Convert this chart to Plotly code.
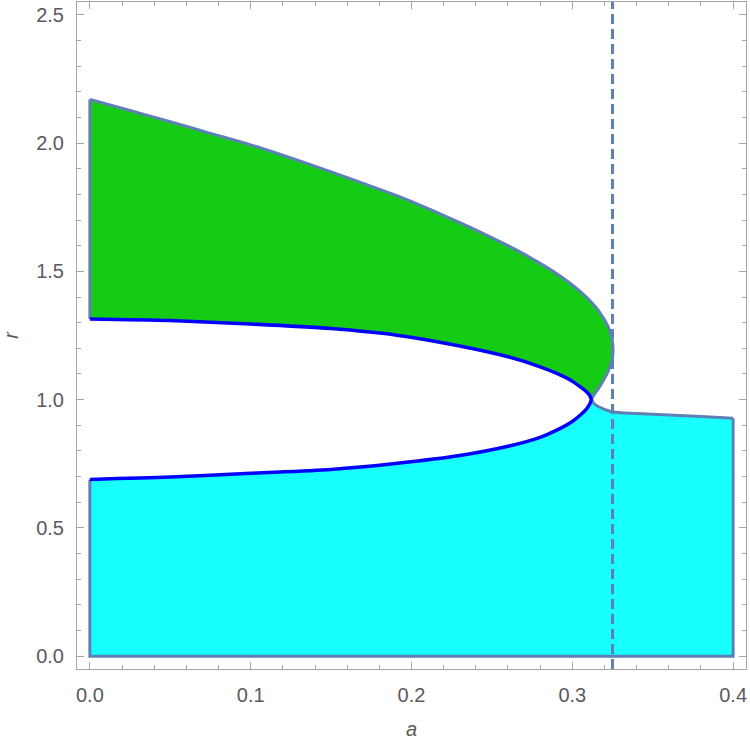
import plotly.graph_objects as go

# ---- data ----
# upper boundary of green region (goes out to the fold and back to the cusp)
a_upper = [0.000, 0.025, 0.050, 0.075, 0.100, 0.125, 0.150, 0.170, 0.190, 0.210, 0.230, 0.245, 0.260,
           0.270, 0.280, 0.288, 0.295, 0.300, 0.305, 0.309, 0.312, 0.315, 0.318, 0.320, 0.322, 0.3235,
           0.3245, 0.3251, 0.3253, 0.3251, 0.3245, 0.3235, 0.3222, 0.3205, 0.3185, 0.3165, 0.3145, 0.3130, 0.3118]
r_upper = [2.170, 2.127, 2.083, 2.038, 1.993, 1.942, 1.888, 1.843, 1.797, 1.746, 1.690, 1.646, 1.600,
           1.567, 1.531, 1.500, 1.470, 1.447, 1.421, 1.398, 1.379, 1.357, 1.331, 1.311, 1.287, 1.265,
           1.241, 1.218, 1.194, 1.170, 1.150, 1.130, 1.110, 1.088, 1.066, 1.046, 1.028, 1.013, 1.000]

# middle (upper blue) branch from a=0 to the cusp
a_branch = [0.000, 0.050, 0.100, 0.150, 0.190, 0.230, 0.260, 0.280, 0.290, 0.300, 0.305, 0.309, 0.311, 0.3118]
r_mid = [1.314, 1.308, 1.295, 1.277, 1.252, 1.209, 1.167, 1.128, 1.103, 1.072, 1.050, 1.030, 1.015, 1.000]
# lower blue branch
r_low = [0.689, 0.698, 0.713, 0.728, 0.751, 0.782, 0.818, 0.853, 0.880, 0.915, 0.940, 0.965, 0.985, 1.000]

# top of the cyan region beyond the cusp
a_cyan_top = [0.3118, 0.3135, 0.3165, 0.3200, 0.3252, 0.340, 0.360, 0.380, 0.400]
r_cyan_top = [1.000, 0.985, 0.972, 0.962, 0.952, 0.946, 0.940, 0.934, 0.927]

a_crit = 0.325
a_min, a_max = 0.0, 0.4
r_floor = 0.0

x_ticks = [0.0, 0.1, 0.2, 0.3, 0.4]
y_ticks = [0.0, 0.5, 1.0, 1.5, 2.0, 2.5]

EDGE = "#5E81B5"
GREEN = "#13CC13"
CYAN = "#17FFFF"
BLUE = "#0000FF"
FRAME = "#A6A6A6"
TXT = "#5a5a5a"
FONT = "Liberation Sans, Arial, sans-serif"

fig = go.Figure()


def line_trace(x, y, color, width, spline=False):
    return go.Scatter(x=x, y=y, mode="lines",
                      line=dict(color=color, width=width,
                                shape="spline" if spline else "linear", smoothing=0.8),
                      hoverinfo="skip", showlegend=False)


# cyan region polygon (fill only)
cx = [a_min] + a_branch + a_cyan_top[1:] + [a_max, a_min]
cy = [r_floor] + r_low + r_cyan_top[1:] + [r_floor, r_floor]
fig.add_trace(go.Scatter(x=cx, y=cy, mode="lines", fill="toself", fillcolor=CYAN,
                         line=dict(width=0), hoverinfo="skip", showlegend=False))
# cyan edges
fig.add_trace(line_trace([a_min, a_min, a_max, a_max], [r_low[0], r_floor, r_floor, r_cyan_top[-1]], EDGE, 3))
fig.add_trace(line_trace(a_cyan_top, r_cyan_top, EDGE, 3, spline=True))

# green region polygon (fill only)
gx = a_upper + a_branch[::-1] + [a_upper[0]]
gy = r_upper + r_mid[::-1] + [r_upper[0]]
fig.add_trace(go.Scatter(x=gx, y=gy, mode="lines", fill="toself", fillcolor=GREEN,
                         line=dict(width=0), hoverinfo="skip", showlegend=False))
# green edges
fig.add_trace(line_trace([a_min, a_min], [r_mid[0], r_upper[0]], EDGE, 3))
fig.add_trace(line_trace(a_upper, r_upper, EDGE, 3, spline=True))

# blue branches
bx = a_branch + a_branch[::-1]
by = r_low + r_mid[::-1]
fig.add_trace(line_trace(bx, by, BLUE, 3.5, spline=True))

# dashed vertical line
fig.add_shape(type="line", x0=a_crit, x1=a_crit, y0=0, y1=1, xref="x", yref="paper",
              line=dict(color=EDGE, width=3, dash="10px,5px"))

axis_common = dict(
    showgrid=False, zeroline=False, showline=True, linecolor=FRAME, linewidth=1,
    mirror="allticks", ticks="inside", ticklen=7, tickcolor=FRAME, tickwidth=1,
    tickfont=dict(family=FONT, size=20, color=TXT),
    ticklabelstandoff=8,
)

fig.update_layout(
    width=750, height=744,
    margin=dict(l=77, r=4, t=2, b=75),
    paper_bgcolor="white", plot_bgcolor="white",
    xaxis=dict(range=[-0.008, 0.408], tickvals=x_ticks, ticktext=[f"{v:.1f}" for v in x_ticks],
               minor=dict(dtick=0.02, tick0=0, ticks="inside", ticklen=4, tickcolor=FRAME, showgrid=False),
               title=dict(text="<i>a</i>", font=dict(family=FONT, size=20, color=TXT), standoff=16),
               **axis_common),
    yaxis=dict(range=[-0.05, 2.55], tickvals=y_ticks, ticktext=[f"{v:.1f}" for v in y_ticks],
               minor=dict(dtick=0.1, tick0=0, ticks="inside", ticklen=4, tickcolor=FRAME, showgrid=False),
               title=dict(text="<i>r</i>", font=dict(family=FONT, size=20, color=TXT), standoff=12),
               **axis_common),
)

fig.write_html("out.html")
